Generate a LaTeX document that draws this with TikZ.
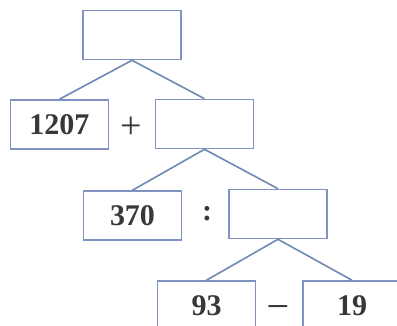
\documentclass[tikz,border=0pt]{standalone}
\usepackage{fontspec}
\usepackage{graphicx}
\setmainfont{Liberation Serif}
\definecolor{boxc}{HTML}{7F92C2}
\definecolor{linec}{HTML}{6F88B4}
\definecolor{txtc}{HTML}{383838}
\begin{document}
\begin{tikzpicture}[x=1pt,y=-1pt,
  numbox/.style={draw=boxc,line width=1.6pt,fill=white,minimum width=98pt,minimum height=49pt,inner sep=0pt,
    font=\fontsize{30}{36}\selectfont\bfseries,text=txtc},
  opsign/.style={font=\fontsize{38}{44}\selectfont,text=txtc,inner sep=0pt},
  colonsign/.style={font=\fontsize{30}{36}\selectfont\bfseries,text=txtc,inner sep=0pt},
  link/.style={draw=linec,line width=1.6pt}]
\clip (0,0) rectangle (397,325);
\fill[white] (0,0) rectangle (397,325);
\node[numbox] (top) at (132,35) {};
\node[numbox] (a) at (59.5,124.5) {1207};
\node[numbox] (b) at (204.5,124) {};
\node[numbox] (c) at (132.5,215.5) {370};
\node[numbox] (d) at (278,214) {};
\node[numbox] (e) at (206.5,305.5) {93};
\node[numbox] (f) at (352,305.5) {19};
\node[opsign] (plus) at (131,128) {+};
\node[colonsign] (colon) at (207,214) {:};
\node[colonsign,anchor=base,text depth=0pt] (minus) at (278,316) {\scalebox{1.35}[1]{\symbol{"2212}}};
\draw[link] (top.south) -- (a.north);
\draw[link] (top.south) -- (b.north);
\draw[link] (b.south) -- (c.north);
\draw[link] (b.south) -- (d.north);
\draw[link] (d.south) -- (e.north);
\draw[link] (d.south) -- (f.north);
\end{tikzpicture}
\end{document}
